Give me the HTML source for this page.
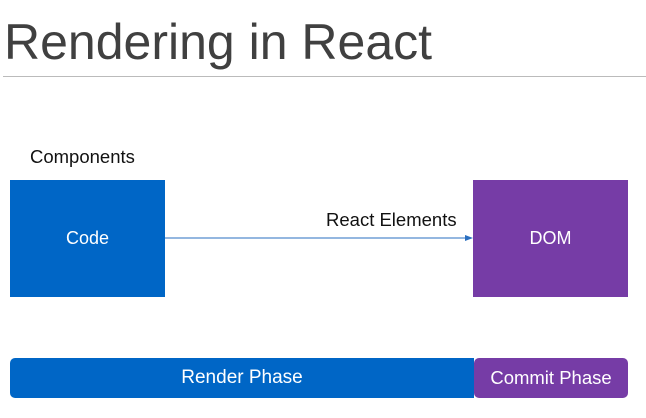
<!DOCTYPE html>
<html><head><style>
body{margin:0;width:646px;height:418px;background:#fff;position:relative;overflow:hidden;font-family:"Liberation Sans",sans-serif}
div{position:absolute}
.t{left:4px;top:13px;font-size:50px;color:#404040;letter-spacing:0px;font-weight:300}
.c{color:#fff;font-size:18px;display:flex;align-items:center;justify-content:center}
</style></head><body>
<div class="t">Rendering in React</div>
<div style="left:3px;top:76px;width:643px;height:1px;background:#bbb"></div>
<div style="left:30px;top:146px;font-size:18.5px;color:#111">Components</div>
<div class="c" style="left:10px;top:180px;width:155px;height:117px;background:#0066c6">Code</div>
<div class="c" style="left:473px;top:180px;width:155px;height:117px;background:#763ca6">DOM</div>
<svg style="position:absolute;left:0;top:0" width="646" height="418"><line x1="165" y1="238" x2="466" y2="238" stroke="#2a6fc0" stroke-width="1"/><polygon points="473,238 465,235 465,241" fill="#2a6fc0"/></svg>
<div style="left:326px;top:209px;font-size:18.5px;color:#111">React Elements</div>
<div class="c" style="left:10px;top:358px;width:464px;height:40px;background:#0066c6;border-radius:5px 0 0 5px;font-size:19px">Render Phase</div>
<div class="c" style="left:474px;top:358px;width:154px;height:40px;background:#763ca6;border-radius:5px;font-size:18.5px">Commit Phase</div>
</body></html>
